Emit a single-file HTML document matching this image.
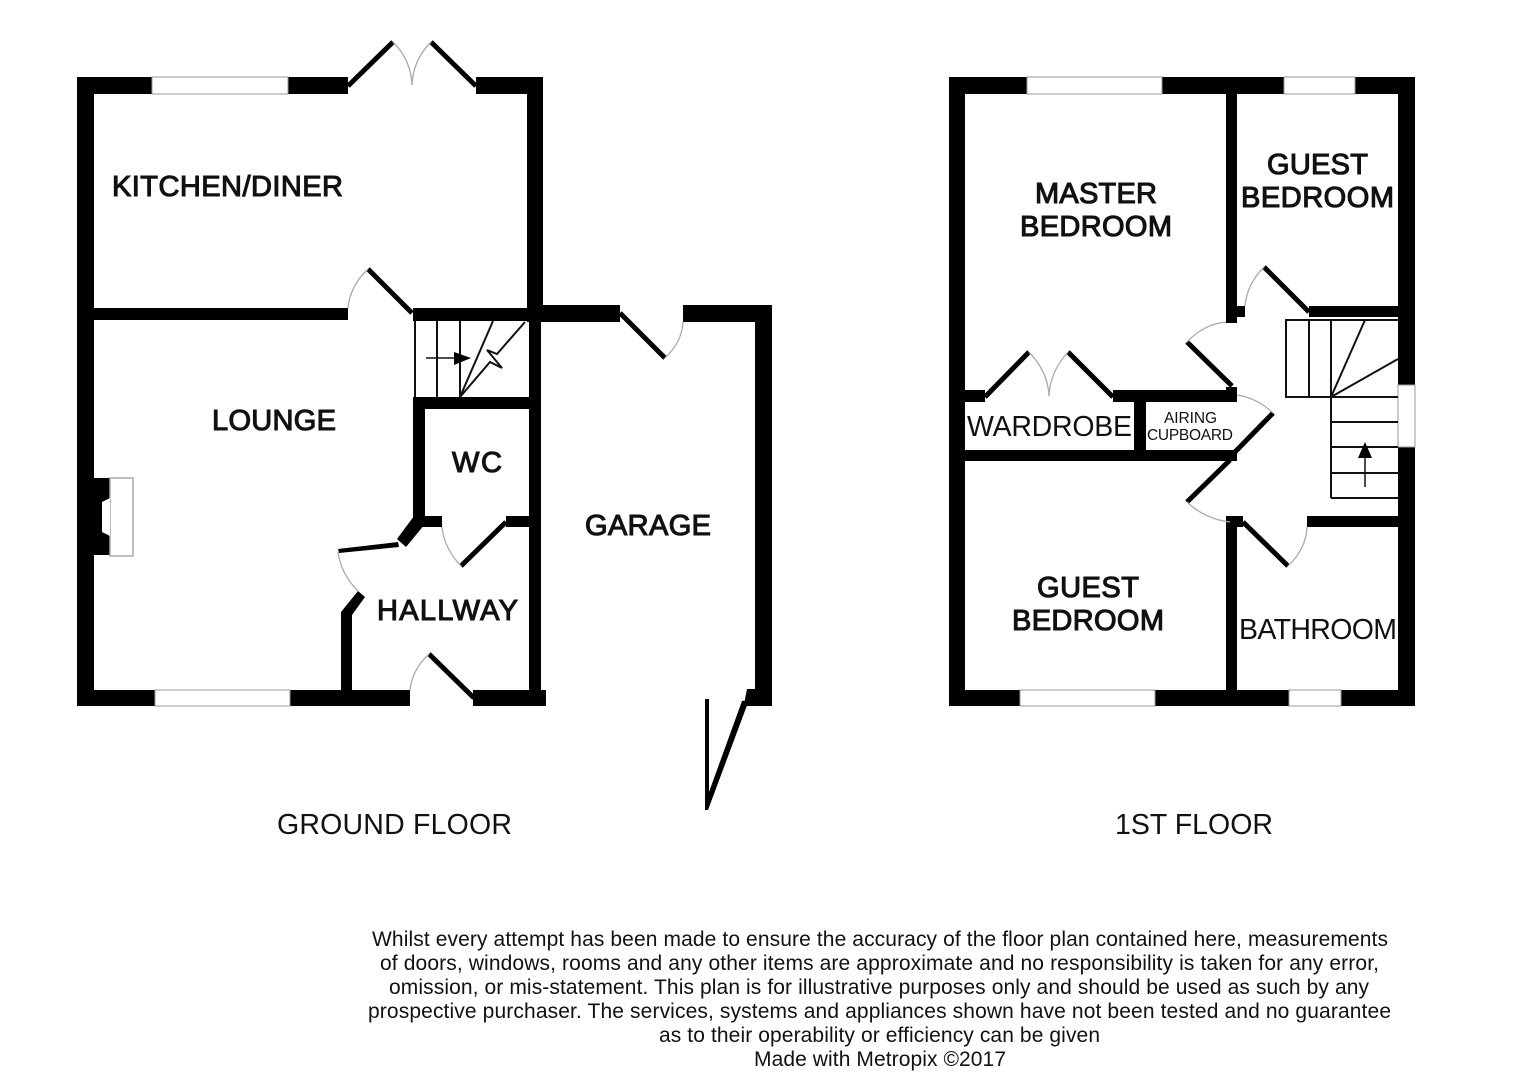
<!DOCTYPE html>
<html><head><meta charset="utf-8"><style>
html,body{margin:0;padding:0;background:#fff}
svg{display:block}
text{font-family:"Liberation Sans",Arial,sans-serif;fill:#111}
.b{font-size:29px;stroke:#111;stroke-width:1.1px}
.r{font-size:28.5px}
.s{font-size:15.5px}
.d{font-size:21px}
.w{fill:#000}
.win{fill:#fff;stroke:#999;stroke-width:1}
.leaf{stroke:#000;stroke-width:5;fill:none}
.arc{stroke:#aaa;stroke-width:1.3;fill:none}
.st{stroke:#111;stroke-width:2;fill:none}
</style></head><body>
<svg width="1515" height="1080" viewBox="0 0 1515 1080" xmlns="http://www.w3.org/2000/svg">
<rect width="1515" height="1080" fill="#fff"/>

<!-- GROUND FLOOR walls -->
<g class="w">
<rect x="77" y="77" width="271" height="17"/>
<rect x="476" y="77" width="67" height="17"/>
<rect x="77" y="77" width="17" height="629"/>
<rect x="527" y="77" width="16" height="245"/>
<rect x="529" y="308" width="12" height="390"/>
<rect x="77" y="690" width="333" height="16"/>
<rect x="473" y="690" width="73" height="16"/>
<rect x="94" y="308" width="254" height="12"/>
<rect x="413" y="308" width="130" height="13"/>
<rect x="541" y="305" width="79" height="17"/>
<rect x="683" y="305" width="89" height="17"/>
<rect x="755" y="305" width="17" height="401"/>
<polygon points="747,689 755,689 755,706 745,706 745,699"/>
<rect x="413" y="397" width="128" height="12"/>
<rect x="413" y="397" width="12" height="120"/>
<rect x="415" y="516" width="27" height="11"/>
<rect x="506" y="516" width="35" height="11"/>
<polygon points="414,516 425,524 406,547 397,539"/>
<polygon points="338,549 398,542 399,547 339,553"/>
<polygon points="358,591 365,597 352,615 352,690 341,690 341,612"/>
<rect x="94" y="478" width="16" height="77"/>
<polygon points="110,478 133,478 133,556 110,556" fill="#fff" stroke="#aaa" stroke-width="1.5"/>
<polygon points="102,502 110,498 110,536 102,532" fill="#fff"/>
<polygon points="709,699 709,792 742,701 749,700 708,810 705,810 705,699"/>
</g>
<rect class="win" x="152" y="77" width="136" height="17"/>
<rect class="win" x="155" y="690" width="135" height="16"/>

<!-- ground floor doors -->
<path class="leaf" d="M348 86 L393 42"/><path class="arc" d="M393 42 Q411 60 412 85"/>
<path class="leaf" d="M476 86 L431 42"/><path class="arc" d="M431 42 Q413 60 412 85"/>
<path class="leaf" d="M412 313 L368 269"/><path class="arc" d="M368 269 Q350 286 348 308"/>
<path class="leaf" d="M474 698 L429 654"/><path class="arc" d="M429 654 Q412 670 410 690"/>
<path class="leaf" d="M506 522 L461 566"/><path class="arc" d="M461 566 Q444 548 442 527"/>
<path class="leaf" d="M620 313 L665 358"/><path class="arc" d="M665 358 Q682 342 683 322"/>
<path class="arc" d="M338 552 Q341 574 358 591"/>

<!-- ground floor stairs -->
<path class="st" d="M415 321V397M437 321V397M460 321V397M460 397L493 321M460 397L490 362L502 368L487 350L497 354L525 322"/>
<path d="M426 358H455" stroke="#111" stroke-width="1.5"/>
<polygon points="454,352 471,358 454,365" fill="#000"/>

<!-- FIRST FLOOR walls -->
<g class="w">
<rect x="949" y="77" width="466" height="17"/>
<rect x="949" y="77" width="16" height="629"/>
<rect x="1398" y="77" width="17" height="629"/>
<rect x="949" y="690" width="466" height="16"/>
<rect x="1226" y="94" width="11" height="229"/>
<rect x="1237" y="306" width="8" height="11"/>
<rect x="1309" y="306" width="89" height="11"/>
<rect x="965" y="390" width="20" height="12"/>
<rect x="1113" y="390" width="124" height="12"/>
<rect x="1226" y="387" width="11" height="15"/>
<rect x="1134" y="401" width="12" height="50"/>
<rect x="965" y="450" width="272" height="11"/>
<rect x="1226" y="516" width="11" height="175"/>
<rect x="1237" y="516" width="6" height="11"/>
<rect x="1307" y="516" width="91" height="11"/>
</g>
<rect class="win" x="1027" y="77" width="135" height="17"/>
<rect class="win" x="1284" y="77" width="71" height="17"/>
<rect class="win" x="1020" y="690" width="135" height="16"/>
<rect class="win" x="1289" y="690" width="52" height="16"/>
<rect class="win" x="1398" y="385" width="17" height="62"/>

<!-- first floor doors -->
<path class="leaf" d="M1309 312 L1264 267"/><path class="arc" d="M1264 267 Q1247 284 1245 306"/>
<path class="leaf" d="M1232 386 L1187 342"/><path class="arc" d="M1187 342 Q1204 324 1226 322"/>
<path class="leaf" d="M985 397 L1029 352"/><path class="arc" d="M1029 352 Q1048 372 1049 396"/>
<path class="leaf" d="M1113 397 L1068 352"/><path class="arc" d="M1068 352 Q1050 372 1049 396"/>
<path class="leaf" d="M1235 452 L1273 413"/><path class="arc" d="M1273 413 Q1257 398 1237 395"/>
<path class="leaf" d="M1230 460 L1187 502"/><path class="arc" d="M1187 502 Q1205 519 1230 522"/>
<path class="leaf" d="M1243 522 L1288 566"/><path class="arc" d="M1288 566 Q1306 549 1307 527"/>

<!-- first floor stairs -->
<path class="st" d="M1398 320H1286V397H1398M1309 320V397M1331 320V498M1331 397L1365 320M1331 397L1398 359M1331 422H1398M1331 447H1398M1331 473H1398M1331 498H1398"/>
<path d="M1365 487V455" stroke="#111" stroke-width="1.5"/>
<polygon points="1365,442 1358,458 1372,458" fill="#000"/>

<!-- room labels -->
<text class="b" x="112" y="196" textLength="231">KITCHEN/DINER</text>
<text class="b" x="212" y="430" textLength="124">LOUNGE</text>
<text class="b" x="452" y="472" textLength="50">WC</text>
<text class="b" x="377" y="620" textLength="141">HALLWAY</text>
<text class="b" x="585" y="535" textLength="126">GARAGE</text>
<text class="b" x="1035" y="203" textLength="122">MASTER</text>
<text class="b" x="1020" y="236" textLength="152">BEDROOM</text>
<text class="b" x="1267" y="174" textLength="101">GUEST</text>
<text class="b" x="1241" y="207" textLength="153">BEDROOM</text>
<text class="b" x="1037" y="597" textLength="102">GUEST</text>
<text class="b" x="1012" y="630" textLength="152">BEDROOM</text>
<text class="r" x="967" y="436" textLength="165">WARDROBE</text>
<text class="r" x="1239" y="639" textLength="158">BATHROOM</text>
<text class="s" x="1164" y="423" textLength="53">AIRING</text>
<text class="s" x="1147" y="440" textLength="86">CUPBOARD</text>
<text class="r" x="277" y="834" textLength="235">GROUND FLOOR</text>
<text class="r" x="1115" y="834" textLength="158">1ST FLOOR</text>

<!-- disclaimer -->
<text class="d" x="372" y="946" textLength="1016">Whilst every attempt has been made to ensure the accuracy of the floor plan contained here, measurements</text>
<text class="d" x="380" y="970" textLength="999">of doors, windows, rooms and any other items are approximate and no responsibility is taken for any error,</text>
<text class="d" x="389" y="994" textLength="980">omission, or mis-statement. This plan is for illustrative purposes only and should be used as such by any</text>
<text class="d" x="368" y="1018" textLength="1023">prospective purchaser. The services, systems and appliances shown have not been tested and no guarantee</text>
<text class="d" x="659" y="1042" textLength="441">as to their operability or efficiency can be given</text>
<text class="d" x="754" y="1066" textLength="252">Made with Metropix ©2017</text>
</svg>
</body></html>
